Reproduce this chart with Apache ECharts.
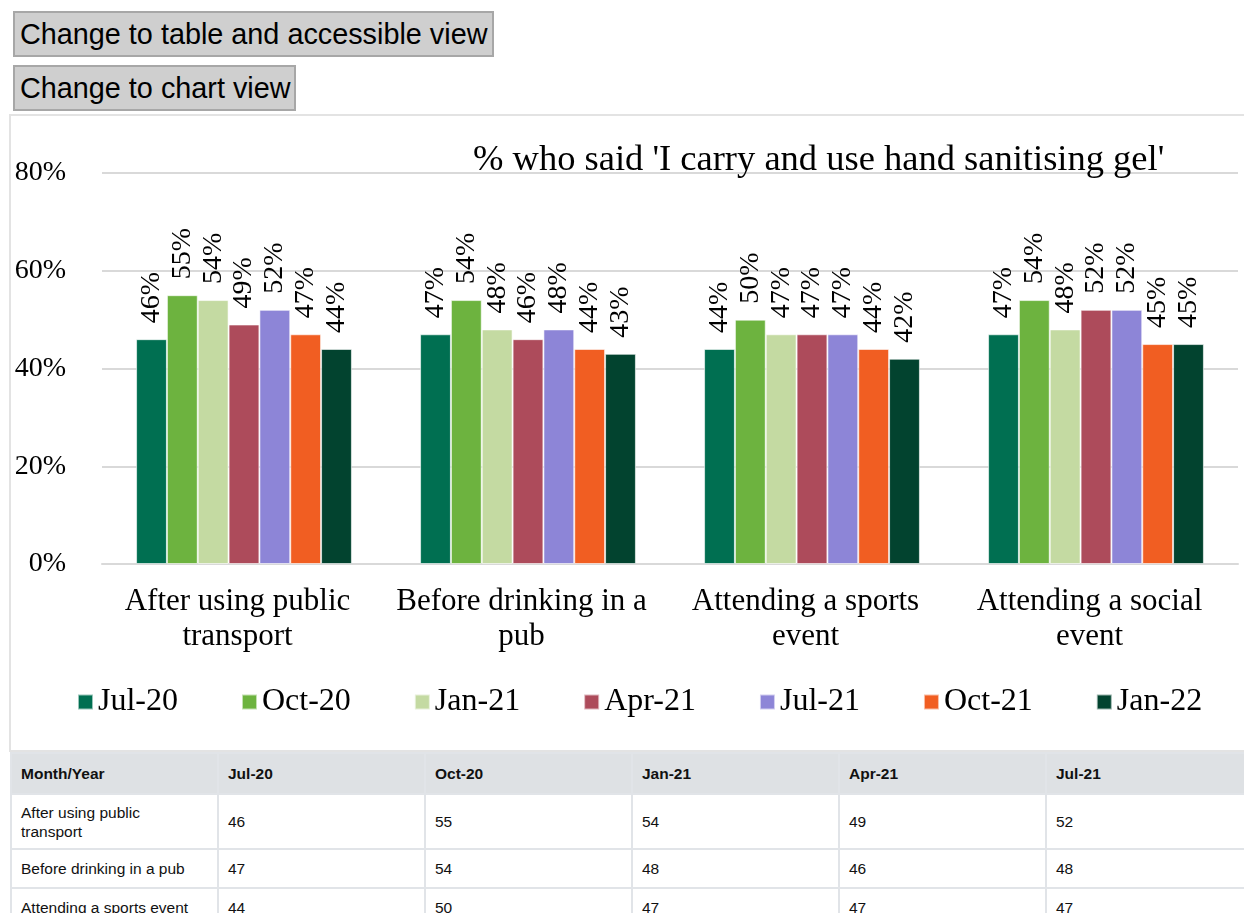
<!DOCTYPE html>
<html>
<head>
<meta charset="utf-8">
<script src="https://cdn.jsdelivr.net/npm/echarts@6/dist/echarts.min.js"></script>
<style>
  body { margin: 0; background: #fff; overflow: hidden; width: 1244px; height: 913px; position: relative; }
  .btn {
    position: absolute; left: 13px; height: 46px; box-sizing: border-box;
    background: #cfcfcf; border: 2px solid #a7a7a7; color: #000;
    font-family: "Liberation Sans", Arial, sans-serif; font-size: 28.8px;
    padding: 0 5px; line-height: 42px; white-space: nowrap;
  }
  #box {
    position: absolute; left: 9px; top: 114px; width: 1260px; height: 638px;
    border: 2px solid #e3e3e3; border-right: none; box-sizing: border-box;
  }
  #main { position: absolute; left: 10px; top: 115px; width: 1240px; height: 637px; }
  #tbl {
    position: absolute; left: 10px; top: 752px; border-collapse: collapse;
    table-layout: fixed; width: 1656px;
    font-family: "Liberation Sans", Arial, sans-serif; font-size: 15.5px; color: #111;
  }
  #tbl th, #tbl td {
    border: 2px solid #e1e4e8; text-align: left; padding: 0 9px;
    vertical-align: middle; box-sizing: border-box; width: 207px;
  }
  #tbl th { background: #dee1e4; height: 41px; font-weight: bold; }
  #tbl td { height: 39px; line-height: 19px; }
  #tbl tr.tall td { height: 55px; }
</style>
</head>
<body>
<div class="btn" style="top:11px;width:481px;">Change to table and accessible view</div>
<div class="btn" style="top:65px;width:283px;">Change to chart view</div>
<div id="box"></div>
<div id="main"></div>
<table id="tbl"></table>
<script>
// categories and series values (percent)
const categories = ["After using public transport", "Before drinking in a pub", "Attending a sports event", "Attending a social event"];
const axisLabels = ["After using public\ntransport", "Before drinking in a\npub", "Attending a sports\nevent", "Attending a social\nevent"];
const months = ["Jul-20", "Oct-20", "Jan-21", "Apr-21", "Jul-21", "Oct-21", "Jan-22"];
const jul20 = [46, 47, 44, 47];
const oct20 = [55, 54, 50, 54];
const jan21 = [54, 48, 47, 48];
const apr21 = [49, 46, 47, 52];
const jul21 = [52, 48, 47, 52];
const oct21 = [47, 44, 44, 45];
const jan22 = [44, 43, 42, 45];
const yTicks = [0, 20, 40, 60, 80];

const seriesValues = [jul20, oct20, jan21, apr21, jul21, oct21, jan22];
const colors = ["#006F51", "#6DB33F", "#C4DAA2", "#AD4B5B", "#8D85D7", "#F15E22", "#02432F"];
const serif = "'Liberation Serif', 'Times New Roman', serif";

var chartDom = document.getElementById("main");
var myChart = echarts.init(chartDom);
var option = {
  animation: false,
  color: colors,
  title: {
    text: "% who said 'I carry and use hand sanitising gel'",
    left: 458,
    top: 22,
    textStyle: { fontFamily: serif, fontSize: 36.5, fontWeight: "normal", color: "#000" },
  },
  legend: {
    left: 62,
    top: 566,
    itemWidth: 15,
    itemHeight: 15,
    itemGap: 63,
    icon: "rect",
    textStyle: { fontFamily: serif, fontSize: 32, color: "#000" },
    data: months,
  },
  grid: { left: 92, right: 12, top: 58, bottom: 188 },
  xAxis: {
    type: "category",
    data: axisLabels,
    axisTick: { show: false },
    axisLine: { lineStyle: { color: "#d9d9d9", width: 2 } },
    axisLabel: {
      fontFamily: serif, fontSize: 31, color: "#000", margin: 20, lineHeight: 35, interval: 0,
      padding: [0, 13, 0, 0],
    },
  },
  yAxis: {
    type: "value",
    min: yTicks[0],
    max: yTicks[yTicks.length - 1],
    interval: 20,
    axisLabel: { formatter: "{value}%", fontFamily: serif, fontSize: 28, color: "#000", margin: 36 },
    splitLine: { lineStyle: { color: "#d9d9d9", width: 2 } },
  },
  series: months.map((m, i) => ({
    name: m,
    type: "bar",
    data: seriesValues[i],
    barGap: "0%",
    barCategoryGap: "24%",
    itemStyle: { borderColor: "rgba(255,255,255,0.6)", borderWidth: 1 },
    label: {
      show: true,
      position: "top",
      rotate: 90,
      align: "left",
      verticalAlign: "middle",
      distance: 16,
      formatter: "{c}%",
      fontFamily: serif,
      fontSize: 28,
      color: "#000",
    },
  })),
};
option && myChart.setOption(option);

// accessible table built from the same arrays
var tbl = document.getElementById("tbl");
var html = "<tr><th>Month/Year</th>" + months.map((m) => "<th>" + m + "</th>").join("") + "</tr>";
categories.forEach((c, r) => {
  html += "<tr" + (r === 0 ? ' class="tall"' : "") + "><td>" + (r === 0 ? "After using public<br>transport" : c) + "</td>" +
    seriesValues.map((s) => "<td>" + s[r] + "</td>").join("") + "</tr>";
});
tbl.innerHTML = html;
</script>
</body>
</html>
